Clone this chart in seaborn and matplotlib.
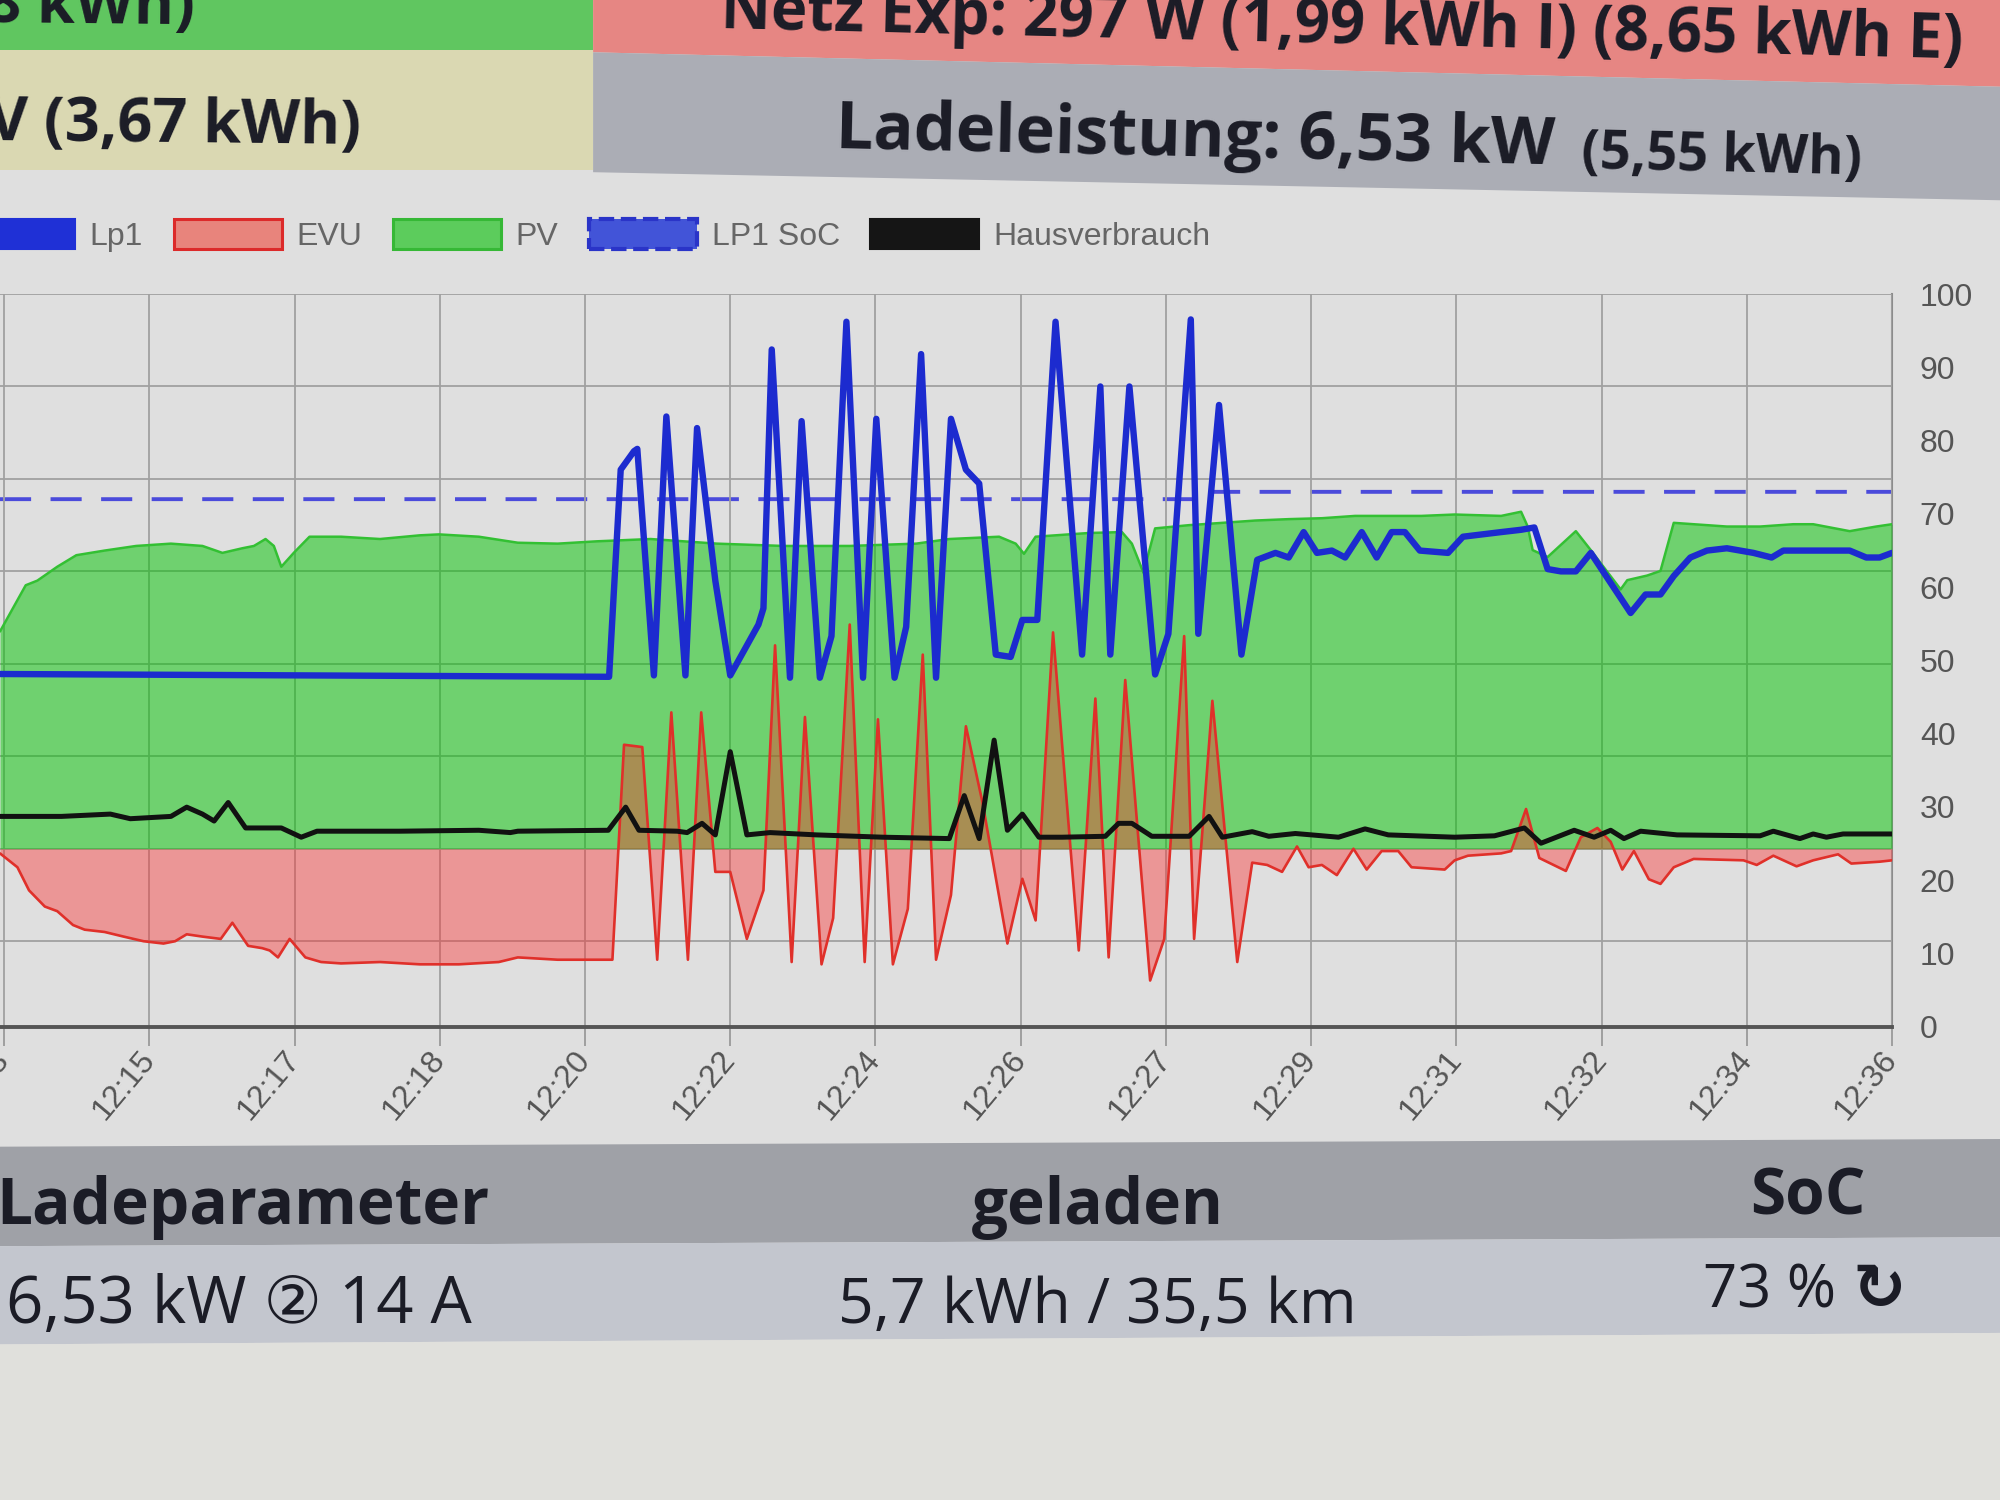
import numpy as np
import pandas as pd
import matplotlib
matplotlib.use("Agg")
import matplotlib.pyplot as plt
import seaborn as sns
from matplotlib.patches import Polygon, Patch

# ---------------- data (time in minutes after 12:00, power in kW) ----------------
lp1_t = [13.2, 20.54, 20.68, 20.84, 20.88, 21.08, 21.23, 21.46, 21.60, 21.82,
         22.00, 22.34, 22.40, 22.50, 22.72, 22.86, 23.08, 23.22, 23.40, 23.60,
         23.76, 23.98, 24.12, 24.30, 24.48, 24.66, 24.84, 25.00, 25.20, 25.38,
         25.52, 25.70, 25.92, 26.24, 26.46, 26.58, 26.81, 27.12, 27.28, 27.55,
         27.64, 27.89, 28.16, 28.35, 28.57, 28.73, 28.91, 29.07, 29.25, 29.41,
         29.61, 29.79, 29.97, 30.13, 30.31, 30.65, 30.83, 31.29, 31.53, 31.69,
         31.85, 32.01, 32.19, 32.37, 32.85, 33.03, 33.21, 33.37, 33.57, 33.77,
         34.01, 34.33, 34.55, 34.69, 35.01, 35.49, 35.69, 35.85, 36.0]
lp1_kw = [3.78, 3.72, 8.2, 8.6, 8.65, 3.75, 9.35, 3.75, 9.1, 5.8,
          3.75, 4.85, 5.2, 10.8, 3.7, 9.25, 3.7, 4.6, 11.4, 3.7,
          9.3, 3.7, 4.8, 10.7, 3.7, 9.3, 8.2, 7.9, 4.2, 4.15,
          4.95, 4.95, 11.4, 4.2, 10.0, 4.2, 10.0, 3.77, 4.65, 11.45,
          4.65, 9.6, 4.2, 6.25, 6.4, 6.3, 6.85, 6.4, 6.45, 6.3,
          6.85, 6.3, 6.85, 6.85, 6.45, 6.4, 6.75, 6.85, 6.9, 6.95,
          6.05, 6.0, 6.0, 6.4, 5.1, 5.5, 5.5, 5.9, 6.3, 6.45,
          6.5, 6.4, 6.3, 6.45, 6.45, 6.45, 6.3, 6.3, 6.4]

pv_t = [13.2, 13.51, 13.65, 13.89, 14.12, 14.46, 14.84, 15.26, 15.64, 15.88,
        16.12, 16.26, 16.40, 16.50, 16.59, 16.74, 16.93, 17.31, 17.78, 18.26,
        18.49, 18.97, 19.44, 19.92, 20.39, 21.04, 21.84, 22.64, 23.44, 24.24,
        24.64, 25.24, 25.44, 25.54, 25.68, 26.32, 26.72, 26.84, 26.98, 27.12,
        27.53, 27.93, 28.33, 28.73, 29.13, 29.53, 30.33, 30.73, 31.29, 31.53,
        31.61, 31.67, 31.85, 32.19, 32.37, 32.73, 32.81, 33.05, 33.21, 33.37,
        33.61, 34.01, 34.41, 34.81, 35.05, 35.49, 35.81, 36.0]
pv_kw = [4.7, 5.7, 5.8, 6.1, 6.35, 6.45, 6.55, 6.6, 6.55, 6.4,
         6.5, 6.55, 6.7, 6.55, 6.1, 6.4, 6.75, 6.75, 6.7, 6.78,
         6.8, 6.75, 6.62, 6.6, 6.65, 6.7, 6.6, 6.55, 6.55, 6.6,
         6.7, 6.75, 6.6, 6.38, 6.75, 6.83, 6.85, 6.6, 5.97, 6.93,
         7.0, 7.05, 7.1, 7.13, 7.15, 7.2, 7.2, 7.23, 7.2, 7.29,
         6.97, 6.46, 6.31, 6.87, 6.46, 5.61, 5.81, 5.91, 6.01, 7.05,
         7.02, 6.97, 6.97, 7.02, 7.02, 6.87, 6.97, 7.02]

evu_t = [13.2, 13.41, 13.55, 13.74, 13.89, 14.08, 14.22, 14.46, 14.69, 14.93,
         15.17, 15.31, 15.45, 15.64, 15.86, 16.00, 16.19, 16.36, 16.45, 16.55,
         16.69, 16.88, 17.07, 17.31, 17.78, 18.26, 18.73, 19.21, 19.44, 19.92,
         20.58, 20.72, 20.94, 21.12, 21.29, 21.49, 21.65, 21.82, 22.00, 22.20,
         22.40, 22.54, 22.74, 22.90, 23.10, 23.24, 23.44, 23.62, 23.78, 23.96,
         24.14, 24.32, 24.48, 24.66, 24.84, 25.04, 25.34, 25.52, 25.68, 25.89,
         26.20, 26.40, 26.56, 26.76, 27.06, 27.23, 27.47, 27.59, 27.81, 28.11,
         28.29, 28.47, 28.65, 28.83, 28.97, 29.13, 29.31, 29.51, 29.67, 29.85,
         30.05, 30.21, 30.61, 30.73, 30.89, 31.29, 31.41, 31.59, 31.75, 32.07,
         32.25, 32.45, 32.61, 32.75, 32.89, 33.07, 33.21, 33.37, 33.61, 34.21,
         34.37, 34.57, 34.85, 35.05, 35.35, 35.51, 35.85, 36.0]
evu_kw = [-0.1, -0.4, -0.9, -1.25, -1.35, -1.65, -1.75, -1.8, -1.9, -2.0,
          -2.05, -2.0, -1.85, -1.9, -1.95, -1.6, -2.1, -2.15, -2.2, -2.35,
          -1.95, -2.35, -2.45, -2.48, -2.45, -2.5, -2.5, -2.45, -2.35, -2.4,
          -2.4, 2.25, 2.2, -2.4, 2.95, -2.4, 2.95, -0.5, -0.5, -1.95,
          -0.9, 4.4, -2.45, 2.85, -2.5, -1.5, 4.85, -2.45, 2.8, -2.5,
          -1.3, 4.2, -2.4, -1.0, 2.65, 1.0, -2.05, -0.65, -1.55, 4.68,
          -2.2, 3.25, -2.35, 3.65, -2.85, -1.95, 4.6, -1.95, 3.2, -2.45,
          -0.3, -0.35, -0.5, 0.05, -0.4, -0.35, -0.57, 0.0, -0.45, -0.05,
          -0.05, -0.4, -0.45, -0.25, -0.15, -0.1, -0.05, 0.86, -0.2, -0.48,
          0.25, 0.45, 0.15, -0.45, -0.05, -0.66, -0.76, -0.4, -0.22, -0.25,
          -0.35, -0.15, -0.38, -0.25, -0.12, -0.32, -0.28, -0.25]

haus_t = [13.2, 13.94, 14.53, 14.77, 15.26, 15.45, 15.64, 15.78, 15.95, 16.16,
          16.59, 16.83, 17.02, 18.02, 18.97, 19.35, 19.44, 20.53, 20.74, 20.90,
          21.36, 21.48, 21.66, 21.82, 22.00, 22.20, 22.48, 23.04, 23.84, 24.64,
          24.82, 25.00, 25.18, 25.34, 25.52, 25.72, 26.00, 26.52, 26.68, 26.84,
          27.08, 27.53, 27.77, 27.93, 28.29, 28.49, 28.81, 29.33, 29.65, 29.93,
          30.73, 31.21, 31.57, 31.77, 32.17, 32.41, 32.61, 32.77, 32.97, 33.41,
          34.41, 34.57, 34.89, 35.05, 35.21, 35.41, 36.0]
haus_kw = [0.7, 0.7, 0.75, 0.65, 0.7, 0.9, 0.75, 0.6, 1.0, 0.45,
           0.45, 0.25, 0.38, 0.38, 0.4, 0.35, 0.38, 0.4, 0.9, 0.4,
           0.38, 0.35, 0.55, 0.3, 2.1, 0.3, 0.35, 0.3, 0.25, 0.22,
           1.15, 0.22, 2.35, 0.4, 0.75, 0.25, 0.25, 0.27, 0.55, 0.55,
           0.27, 0.27, 0.7, 0.25, 0.37, 0.27, 0.33, 0.25, 0.43, 0.3,
           0.25, 0.28, 0.45, 0.12, 0.4, 0.25, 0.4, 0.22, 0.38, 0.3,
           0.28, 0.38, 0.22, 0.32, 0.25, 0.32, 0.32]

soc_t = [13.2, 27.6, 27.65, 36.0]
soc_pct = [72, 72, 73, 73]

tick_labels = ["12:13", "12:15", "12:17", "12:18", "12:20", "12:22", "12:24",
               "12:26", "12:27", "12:29", "12:31", "12:32", "12:34", "12:36"]
tick_first, tick_step = 13.25, 1.75

legend_names = ["Lp1", "EVU", "PV", "LP1 SoC", "Hausverbrauch"]
soc_ticks = list(range(0, 101, 10))
kw_grid = list(range(-2, 13, 2))

hdr_row1_left = "8 kWh)"
hdr_row1_right = "Netz Exp: 297 W (1,99 kWh I) (8,65 kWh E)"
hdr_row2_left = "V (3,67 kWh)"
hdr_row2_right = "Ladeleistung: 6,53 kW"
hdr_row2_right_small = "(5,55 kWh)"
bottom_heads = ["Ladeparameter", "geladen", "SoC"]
bottom_vals = ["6,53 kW \u2461 14 A", "5,7 kWh / 35,5 km", "73 %"]

# ---------------- styling ----------------
sns.set_theme(style="white")
plt.rcParams["font.family"] = ["Liberation Sans", "DejaVu Sans"]

W, H = 1568.0, 1176.0
def D(x, y):
    return (x / W, 1 - y / H)

BG = "#dfdfdf"
fig = plt.figure(figsize=(20, 15), dpi=100, facecolor=BG)

def poly(pts, color):
    fig.add_artist(Polygon([D(*p) for p in pts], closed=True, transform=fig.transFigure,
                           facecolor=color, edgecolor="none", zorder=0))

# header cells
poly([(0, 0), (465, 0), (465, 39), (0, 39)], "#60c660")
poly([(465, 0), (1568, 0), (1568, 68), (465, 41)], "#e68683")
poly([(0, 39), (465, 39), (465, 133), (0, 133)], "#dad8b2")
poly([(465, 41), (1568, 68), (1568, 157), (465, 135)], "#abadb5")
# bottom bands
poly([(0, 899), (1568, 893), (1568, 970), (0, 977)], "#9fa1a7")
poly([(0, 977), (1568, 970), (1568, 1045), (0, 1054)], "#c3c6ce")
poly([(0, 1054), (1568, 1045), (1568, 1176), (0, 1176)], "#e0e0dc")

HF = ["Open Sans", "DejaVu Sans"]
TXT = "#1b1c26"
def ftext(x, y, s, size, weight="bold", ha="left", rot=0.0, family=HF):
    fig.text(*D(x, y), s, fontsize=size, fontweight=weight, ha=ha, va="baseline",
             rotation=rot, rotation_mode="anchor", color=TXT, family=family)

ftext(-11, 17, hdr_row1_left, 44, rot=-0.6)
ftext(565, 22, hdr_row1_right, 44.5, rot=-1.4)
ftext(-9, 110, hdr_row2_left, 44, rot=-0.6)
ftext(655, 116, hdr_row2_right, 48, rot=-1.3)
ftext(1240, 132, hdr_row2_right_small, 39, rot=-1.3)

ftext(-3, 960, bottom_heads[0], 46)
ftext(861, 960, bottom_heads[1], 46, ha="center")
ftext(1417, 952, bottom_heads[2], 46, ha="center")
ftext(5, 1037, bottom_vals[0], 47, weight="normal")
ftext(860, 1037, bottom_vals[1], 45, weight="normal", ha="center")
ftext(1335, 1025, bottom_vals[2], 43, weight="normal")
ftext(1452, 1026, "\u21bb", 46, weight="bold", family=["DejaVu Sans"])

# ---------------- chart ----------------
ax = fig.add_axes([0.0, 0.3155, 0.946, 0.4885])
ax2 = ax.twinx()
ax.set_zorder(3)
ax2.set_zorder(2)
ax.patch.set_visible(False)
ax2.patch.set_visible(False)

GREEN_FILL, GREEN_LINE = "#00c400", "#33c033"
RED_FILL, RED_LINE = "#ff2a2a", "#e0302a"
BLUE = "#1c2bcf"
SOC_BLUE = "#4b4bdb"

ax.fill_between(pv_t, 0, pv_kw, color=GREEN_FILL, alpha=0.5, lw=0, zorder=1)
ax.fill_between(evu_t, 0, evu_kw, color=RED_FILL, alpha=0.4, lw=0, zorder=2)

common = dict(ax=ax, estimator=None, sort=False, legend=False)
sns.lineplot(x=pv_t, y=pv_kw, color=GREEN_LINE, lw=1.8, zorder=3, **common)
sns.lineplot(x=evu_t, y=evu_kw, color=RED_LINE, lw=1.9, zorder=4,
             solid_joinstyle="round", **common)
sns.lineplot(x=haus_t, y=haus_kw, color="#111111", lw=3.6, zorder=5,
             solid_joinstyle="round", **common)
sns.lineplot(x=lp1_t, y=lp1_kw, color=BLUE, lw=4.6, zorder=6,
             solid_joinstyle="round", solid_capstyle="round", **common)
sns.lineplot(x=soc_t, y=soc_pct, ax=ax2, color=SOC_BLUE, lw=2.8,
             estimator=None, sort=False, legend=False)
ax2.lines[-1].set_dashes([8, 5])

ax.set_xlim(13.2, 36.0)
ax.set_ylim(-3.85, 12)
ax2.set_ylim(0, 100)

tick_pos = [tick_first + tick_step * i for i in range(len(tick_labels))]
ax.set_xticks(tick_pos)
ax.set_xticklabels(tick_labels, rotation=50, ha="right", va="center",
                   rotation_mode="anchor", fontsize=23, color="#555555")
ax.tick_params(axis="x", bottom=True, length=14, width=1.3, color="#9a9a9a", pad=6)
ax.set_yticks(kw_grid)
ax.tick_params(axis="y", left=False, labelleft=False, right=False, labelright=False)
ax.grid(True, color="#a0a0a0", lw=1.3)
ax.set_axisbelow(True)
ax.set_xlabel("")
ax.set_ylabel("")

ax2.set_yticks(soc_ticks)
ax2.tick_params(axis="y", right=True, length=0, pad=20, labelsize=23, labelcolor="#555555")
ax2.grid(False)
ax2.set_ylabel("[%]", fontsize=23, color="#555555")
ax2.yaxis.set_label_coords(1.062, 0.44)

for a in (ax, ax2):
    for s in ("left", "top"):
        a.spines[s].set_visible(False)
ax.spines["right"].set_visible(False)
ax2.spines["bottom"].set_visible(False)
ax2.spines["right"].set_color("#8c8c8c")
ax2.spines["right"].set_linewidth(1.5)
ax.spines["bottom"].set_color("#555555")
ax.spines["bottom"].set_linewidth(2.8)

# ---------------- legend ----------------
handles = [
    Patch(facecolor="#1f30d6", edgecolor="#1f30d6", lw=1.5),
    Patch(facecolor="#e8847c", edgecolor="#dc2a2a", lw=2.2),
    Patch(facecolor="#5ccc5c", edgecolor="#36b836", lw=2.2),
    Patch(facecolor="#4254d8", edgecolor="#2a34c8", lw=3.0, linestyle="--"),
    Patch(facecolor="#151515", edgecolor="#151515", lw=1.5),
]
fig.legend(handles=handles, labels=legend_names, loc="center left",
           bbox_to_anchor=(-0.0166, 1 - 184.5 / H), ncol=5, frameon=False,
           fontsize=23, labelcolor="#666666", handlelength=3.4, handleheight=1.1,
           handletextpad=0.45, columnspacing=0.95, borderaxespad=0, borderpad=0)

fig.savefig("out.png", dpi=100, facecolor=BG)
